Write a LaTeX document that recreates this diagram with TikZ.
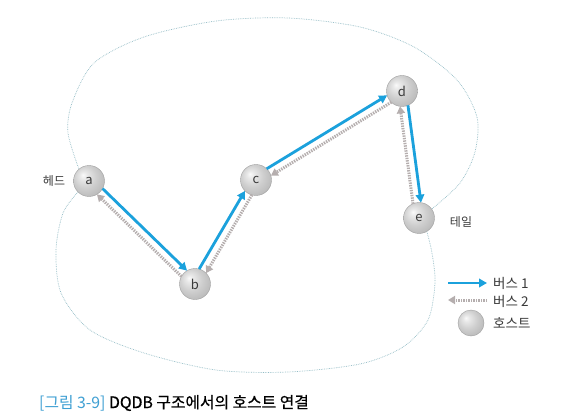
\documentclass[tikz,border=0pt]{standalone}
\usepackage{fontspec}
\setmainfont{Noto Sans CJK KR}
\newfontfamily\capbold[FakeBold=0.6]{Noto Sans CJK KR}
\usetikzlibrary{arrows.meta,calc}
\definecolor{busblue}{HTML}{1BA1DC}
\definecolor{busgray}{HTML}{B5AEAE}
\definecolor{outl}{HTML}{92BCC6}
\definecolor{capblue}{HTML}{3E9FD3}
\definecolor{txt}{HTML}{3A3A3A}
\pgfdeclareradialshading{hostball}{\pgfpoint{-10bp}{10bp}}{%
  color(0bp)=(white!96!gray); color(6bp)=(white!82!gray); color(18bp)=(white!62!gray);
  color(32bp)=(white!44!gray); color(42bp)=(white!32!gray); color(50bp)=(white!25!gray)}
\begin{document}
\begin{tikzpicture}[x=1pt,y=-1pt,
  host/.style={circle, minimum size=31pt, inner sep=0pt, shading=hostball, draw=gray!75, line width=0.4pt, font=\fontsize{13}{13}\selectfont, text=txt},
  bus1/.style={busblue, line width=2.8pt, -{Triangle[length=8pt,width=8.5pt]}},
  bus2/.style={busgray, line width=3pt, dash pattern=on 1.4pt off 1.1pt, -{Triangle[length=7pt,width=8pt]}},
  outline/.style={outl, line width=0.7pt, densely dotted},
  lbl/.style={font=\fontsize{12}{12}\selectfont, text=txt, inner sep=0pt},
  leg/.style={font=\fontsize{13.5}{13.5}\selectfont, text=txt, inner sep=0pt, anchor=west}]
\useasboundingbox (0,0) rectangle (565,417);
\fill[white] (0,0) rectangle (565,417);
% hosts
\node[host] (a) at (89,181) {a};
\node[host] (b) at (195,284) {b};
\node[host] (c) at (256,180) {c};
\node[host] (d) at (402,91) {d};
\node[host] (e) at (419,218) {e};
% outline
\draw[outline] plot[smooth] coordinates {(a.130) (68,133) (72,103) (94,63) (144,37) (216,21) (288,18) (360,27) (414,47) (457,80) (477,117) (475,152) (460,183) (e.35)};
\draw[outline] plot[smooth] coordinates {(e.-60) (432,253) (435,283) (428,320) (403,347) (360,364) (288,372) (216,370) (144,353) (90,330) (61,293) (56,250) (63,213) (a.-135)};
% bus 1
\draw[bus1] ($(a)!15.5pt!15:(b)$) -- ($(b)!15.5pt!-15:(a)$);
\draw[bus1] ($(b)!15.5pt!15:(c)$) -- ($(c)!15.5pt!-15:(b)$);
\draw[bus1] ($(c)!15.5pt!15:(d)$) -- ($(d)!15.5pt!-15:(c)$);
\draw[bus1] ($(d)!15.5pt!15:(e)$) -- ($(e)!15.5pt!-15:(d)$);
% bus 2
\draw[bus2] ($(b)!15.5pt!15:(a)$) -- ($(a)!15.5pt!-15:(b)$);
\draw[bus2] ($(c)!15.5pt!15:(b)$) -- ($(b)!15.5pt!-15:(c)$);
\draw[bus2] ($(d)!15.5pt!15:(c)$) -- ($(c)!15.5pt!-15:(d)$);
\draw[bus2] ($(e)!15.5pt!15:(d)$) -- ($(d)!15.5pt!-15:(e)$);
% labels
\node[lbl] (head) at (54,181) {헤드};
\node[lbl] (tail) at (461,222) {테일};
% legend
\coordinate (l1s) at (448,283);
\coordinate (l1e) at (487,283);
\coordinate (l2s) at (487,300);
\coordinate (l2e) at (448,300);
\draw[bus1] (l1s) -- (l1e);
\draw[bus2] (l2s) -- (l2e);
\node[host, minimum size=26pt] (lh) at (471,323) {};
\node[leg] (t1) at (493,283) {버스 1};
\node[leg] (t2) at (493,301) {버스 2};
\node[leg] (t3) at (493,323) {호스트};
% caption
\node[anchor=west, inner sep=0pt, font=\fontsize{15.8}{15.8}\selectfont] (cap) at (39,403) {\textcolor{capblue}{[그림 3-9]} {\capbold DQDB 구조에서의 호스트 연결}};
\end{tikzpicture}
\end{document}
